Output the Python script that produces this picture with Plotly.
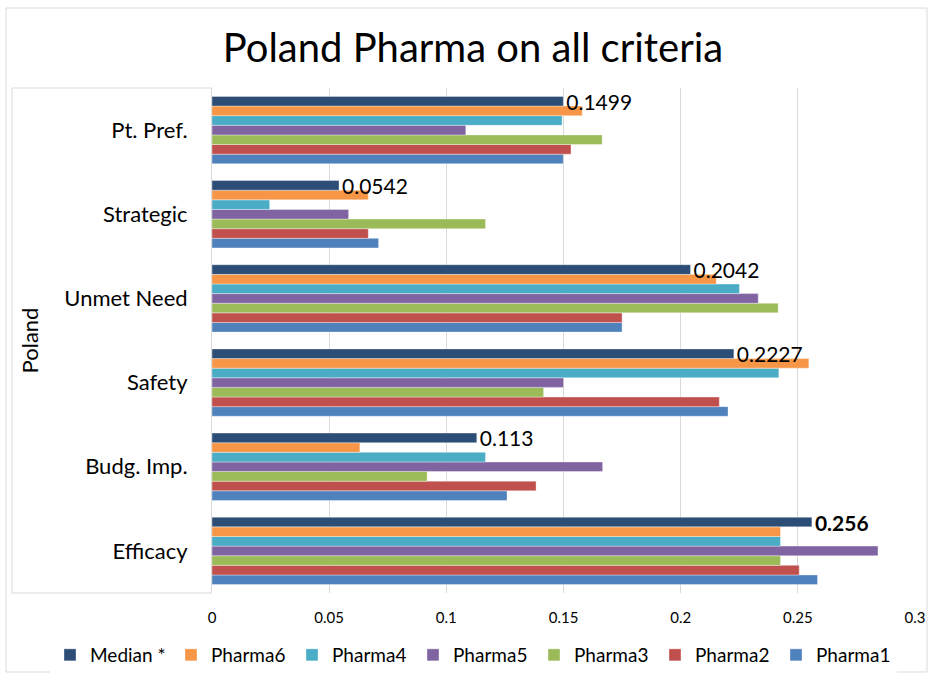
import plotly.graph_objects as go

# Categories listed bottom -> top
categories = ["Efficacy", "Budg. Imp.", "Safety", "Unmet Need", "Strategic", "Pt. Pref."]

# Series (drawn bottom -> top inside each group)
series_names = ["Pharma1", "Pharma2", "Pharma3", "Pharma5", "Pharma4", "Pharma6", "Median *"]
pharma1 = [0.2584, 0.1259, 0.2202, 0.1750, 0.0711, 0.1499]
pharma2 = [0.2506, 0.1383, 0.2165, 0.1750, 0.0667, 0.1532]
pharma3 = [0.2426, 0.0918, 0.1415, 0.2416, 0.1167, 0.1665]
pharma5 = [0.2842, 0.1667, 0.1500, 0.2331, 0.0583, 0.1083]
pharma4 = [0.2426, 0.1167, 0.2419, 0.2251, 0.0246, 0.1494]
pharma6 = [0.2426, 0.0631, 0.2547, 0.2152, 0.0667, 0.1580]
median = [0.2560, 0.1130, 0.2227, 0.2042, 0.0542, 0.1499]
median_labels = ["<b>0.256</b>", "0.113", "0.2227", "0.2042", "0.0542", "0.1499"]

x_tickvals = [0, 0.05, 0.1, 0.15, 0.2, 0.25, 0.3]
x_ticktext = ["0", "0.05", "0.1", "0.15", "0.2", "0.25", "0.3"]

colors = ["#4F81BD", "#C0504D", "#9BBB59", "#8064A2", "#4BACC6", "#F79646", "#2C4D75"]
values = [pharma1, pharma2, pharma3, pharma5, pharma4, pharma6, median]

FONT = "Lato"

fig = go.Figure()
for name, vals, col in zip(series_names, values, colors):
    kw = {}
    if name == "Median *":
        kw = dict(text=median_labels, textposition="outside",
                  textfont=dict(family=FONT, size=21, color="#000000"),
                  cliponaxis=False, constraintext="none")
    fig.add_trace(go.Bar(
        y=categories, x=vals, name=name, orientation="h",
        marker=dict(color=col, line=dict(color="rgba(255,255,255,0.6)", width=0.6)),
        **kw,
    ))

L, R, T, B = 212, 18, 88, 84
W, H = 933, 677
pw, ph = W - L - R, H - T - B

def px_x(p):
    return (p - L) / pw

def px_y(p):
    return 1 - (p - T) / ph

shapes = [
    # category label box
    dict(type="line", xref="paper", yref="paper", x0=px_x(12), x1=px_x(212), y0=1, y1=1,
         line=dict(color="#D9D9D9", width=1)),
    dict(type="line", xref="paper", yref="paper", x0=px_x(12), x1=px_x(212), y0=0, y1=0,
         line=dict(color="#D9D9D9", width=1)),
    dict(type="line", xref="paper", yref="paper", x0=px_x(12), x1=px_x(12), y0=0, y1=1,
         line=dict(color="#D9D9D9", width=1)),
    # chart area border
    dict(type="rect", xref="paper", yref="paper", x0=px_x(6), x1=px_x(927), y0=px_y(8), y1=px_y(672),
         line=dict(color="#D9D9D9", width=1), fillcolor="rgba(0,0,0,0)"),
]

fig.update_layout(
    width=W, height=H,
    margin=dict(l=L, r=R, t=T, b=B, autoexpand=False),
    paper_bgcolor="white", plot_bgcolor="white",
    barmode="group", bargap=0.2, bargroupgap=0,
    title=dict(text="Poland Pharma on all criteria", x=473 / W, xref="container", xanchor="center",
               y=1 - 48 / H, yref="container", yanchor="middle",
               font=dict(family=FONT, size=40, color="#000000")),
    font=dict(family=FONT, color="#000000"),
    xaxis=dict(range=[0, 0.3], tickvals=x_tickvals, ticktext=x_ticktext,
               showgrid=True, gridcolor="#D9D9D9", gridwidth=1, zeroline=False,
               showline=False, ticks="", tickfont=dict(family=FONT, size=15, color="#000000"),
               ticklabelstandoff=14),
    yaxis=dict(type="category", categoryorder="array", categoryarray=categories,
               showgrid=False, zeroline=False, showline=True, linecolor="#D9D9D9",
               ticks="", tickfont=dict(family=FONT, size=22, color="#000000"),
               ticklabelstandoff=19,
               title=dict(text="Poland", font=dict(family=FONT, size=22, color="#000000"), standoff=19)),
    legend=dict(orientation="h", traceorder="reversed", x=px_x(50), xref="paper",
                xanchor="left", y=px_y(655), yref="paper", yanchor="middle",
                font=dict(family=FONT, size=19, color="#000000"),
                itemwidth=30, entrywidth=76, entrywidthmode="pixels", tracegroupgap=0),
    shapes=shapes,
)

fig.write_html("out.html", config={"displayModeBar": False},
               post_script="document.body.style.margin='0';document.body.style.overflow='hidden';")
